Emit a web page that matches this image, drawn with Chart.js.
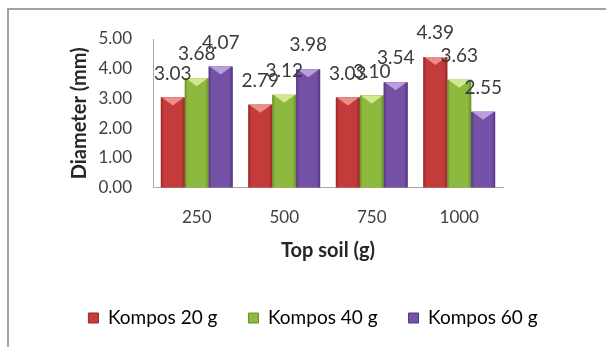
<!DOCTYPE html>
<html>
<head>
<meta charset="utf-8">
<script src="https://cdn.jsdelivr.net/npm/chart.js@4/dist/chart.umd.min.js"></script>
<style>
  html, body { margin: 0; padding: 0; background: #ffffff; }
  #wrap { position: relative; width: 606px; height: 347px; overflow: hidden; }
  #frame { position: absolute; left: 7px; top: 8px; width: 700px; height: 500px;
           border: 2px solid #a3a3a3; box-sizing: border-box; }
  #c { position: absolute; left: 0; top: 0; }
</style>
</head>
<body>
<div id="wrap">
  <div id="frame"></div>
  <canvas id="c" width="606" height="347"></canvas>
</div>
<script>
// Top soil amount (g) on the x axis
const categories = ['250', '500', '750', '1000'];

// Stem diameter (mm) for each compost dose
const kompos20 = [3.03, 2.79, 3.03, 4.39];
const kompos40 = [3.68, 3.12, 3.10, 3.63];
const kompos60 = [4.07, 3.98, 3.54, 2.55];

const seriesNames = ['Kompos 20 g', 'Kompos 40 g', 'Kompos 60 g'];
const yTickValues = [0, 1, 2, 3, 4, 5];

const FONT = 'Lato, "Open Sans", sans-serif';

// base, edge (darker) and bevel (lighter) tones per series
const palette = [
  { base: '#c43b3c', edge: '#962626', bevel: '#ec8d8a' },
  { base: '#8dba3e', edge: '#66902a', bevel: '#d3e78f' },
  { base: '#7450a6', edge: '#523581', bevel: '#b9a0dc' }
];

// Gives the bars a rounded, bevelled look
const barShade = {
  id: 'barShade',
  afterDatasetsDraw(chart) {
    const ctx = chart.ctx;
    chart.data.datasets.forEach((ds, di) => {
      const meta = chart.getDatasetMeta(di);
      const col = palette[di];
      meta.data.forEach(bar => {
        const p = bar.getProps(['x', 'y', 'base', 'width'], true);
        const l = p.x - p.width / 2, r = p.x + p.width / 2;
        const g = ctx.createLinearGradient(l, 0, r, 0);
        g.addColorStop(0, col.edge);
        g.addColorStop(0.12, col.base);
        g.addColorStop(0.85, col.base);
        g.addColorStop(1, col.edge);
        ctx.save();
        ctx.fillStyle = g;
        ctx.fillRect(l, p.y, p.width, p.base - p.y);
        // bevelled top
        ctx.beginPath();
        ctx.moveTo(l + 1, p.y);
        ctx.lineTo(r - 1, p.y);
        ctx.lineTo(p.x, p.y + 8);
        ctx.closePath();
        ctx.fillStyle = col.bevel;
        ctx.fill();
        ctx.restore();
      });
    });
  }
};

// Value labels above each bar
const valueLabels = {
  id: 'valueLabels',
  afterDatasetsDraw(chart) {
    const ctx = chart.ctx;
    ctx.save();
    ctx.font = '19px ' + FONT;
    ctx.fillStyle = '#3a3a3a';
    ctx.textAlign = 'center';
    ctx.textBaseline = 'middle';
    chart.data.datasets.forEach((ds, di) => {
      const meta = chart.getDatasetMeta(di);
      meta.data.forEach((bar, i) => {
        ctx.fillText(ds.data[i].toFixed(2), bar.x, bar.y - 24);
      });
    });
    ctx.restore();
  }
};

const seriesData = [kompos20, kompos40, kompos60];

new Chart(document.getElementById('c'), {
  type: 'bar',
  data: {
    labels: categories,
    datasets: seriesNames.map((name, i) => ({
      label: name,
      data: seriesData[i],
      backgroundColor: palette[i].base,
      borderWidth: 0,
      barPercentage: 1.0,
      categoryPercentage: 0.82
    }))
  },
  options: {
    responsive: false,
    animation: false,
    devicePixelRatio: 1,
    layout: { padding: { top: 39, left: 20, right: 0, bottom: 9.5 } },
    plugins: {
      tooltip: { enabled: false },
      legend: {
        position: 'bottom',
        labels: {
          font: { family: FONT, size: 19 },
          color: '#404040',
          boxWidth: 10,
          boxHeight: 10,
          padding: 31,
          generateLabels(chart) {
            return chart.data.datasets.map((ds, i) => ({
              text: ds.label,
              fillStyle: palette[i].base,
              strokeStyle: palette[i].edge,
              lineWidth: 1,
              datasetIndex: i,
              hidden: false
            }));
          }
        }
      }
    },
    scales: {
      x: {
        grid: { display: false, drawTicks: false },
        border: { display: true, color: '#a8a8a8', width: 1 },
        ticks: { font: { family: FONT, size: 17 }, color: '#404040', padding: 19.5 },
        title: {
          display: true, text: 'Top soil (g)', color: '#262626',
          font: { family: FONT, size: 20, weight: 'bold' },
          padding: { top: 0, bottom: 15 }
        },
        afterFit(scale) { scale.height = 90; }
      },
      y: {
        min: 0, max: 5,
        grid: { display: false, drawTicks: false },
        border: { display: true, color: '#a8a8a8', width: 1 },
        afterBuildTicks(scale) { scale.ticks = yTickValues.map(v => ({ value: v })); },
        ticks: {
          autoSkip: false,
          font: { family: FONT, size: 17 }, color: '#404040', padding: 21,
          callback: v => Number(v).toFixed(2)
        },
        title: {
          display: true, text: 'Diameter (mm)', color: '#262626',
          font: { family: FONT, size: 20, weight: 'bold' },
          padding: { top: 48, bottom: 0 }
        },
        afterFit(scale) { scale.width = 133; }
      },
      // empty right-hand margin beside the plot
      yRight: {
        type: 'linear',
        position: 'right',
        grid: { display: false, drawTicks: false },
        border: { display: false },
        ticks: { display: false },
        afterFit(scale) { scale.width = 103; }
      }
    }
  },
  plugins: [barShade, valueLabels]
});
</script>
</body>
</html>
